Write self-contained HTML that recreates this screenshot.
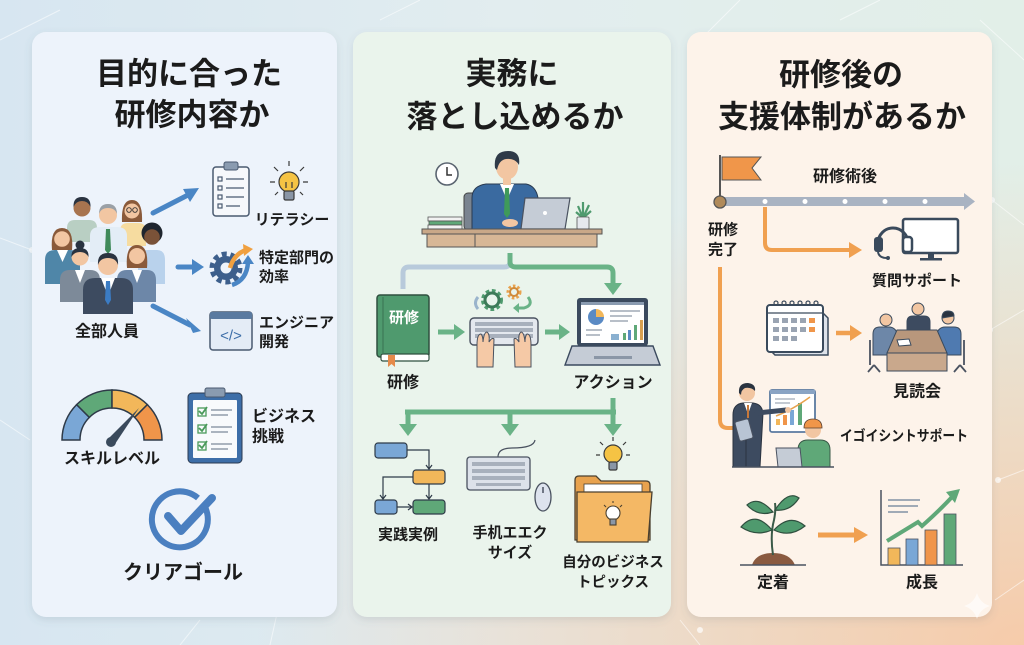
<!DOCTYPE html>
<html><head><meta charset="utf-8">
<style>
html,body{margin:0;padding:0;width:1024px;height:645px;overflow:hidden;background:#e0ecf0;}
svg{display:block;}
text{font-family:"Liberation Sans","Noto Sans CJK JP",sans-serif;font-weight:700;fill:#1b1b1b;dominant-baseline:central;}
</style></head><body>
<svg width="1024" height="645" viewBox="0 0 1024 645" xmlns="http://www.w3.org/2000/svg">
<defs>
<linearGradient id="bg" x1="0" y1="0" x2="1" y2="0">
<stop offset="0" stop-color="#d7e6f1"/>
<stop offset="0.5" stop-color="#e2edef"/>
<stop offset="1" stop-color="#e2efe8"/>
</linearGradient>
<radialGradient id="warm" cx="1" cy="1" r="0.75">
<stop offset="0" stop-color="#f6cbaa" stop-opacity="1"/>
<stop offset="1" stop-color="#f6cbaa" stop-opacity="0"/>
</radialGradient>
<filter id="sh" x="-10%" y="-10%" width="120%" height="120%">
<feDropShadow dx="0" dy="3" stdDeviation="4" flood-color="#5a6a7a" flood-opacity="0.16"/>
</filter>
</defs>

<!-- background -->
<rect width="1024" height="645" fill="url(#bg)"/>
<rect width="1024" height="645" fill="url(#warm)"/>
<g stroke="#ffffff" stroke-opacity="0.55" stroke-width="1" fill="none">
<path d="M0,40 L60,10 M0,238 L32,250 M0,420 L30,440 M270,645 L280,600 M180,645 L200,620 M990,330 L1024,310 M992,200 L1024,225 M998,480 L1024,470 M995,600 L1024,580 M680,620 L700,645 M840,20 L880,0 M980,20 L1024,60 M700,40 L740,0 M380,20 L420,0"/>
</g>
<g fill="#ffffff" fill-opacity="0.7">
<circle cx="32" cy="250" r="3"/><circle cx="992" cy="200" r="3"/><circle cx="990" cy="330" r="3"/><circle cx="998" cy="480" r="3"/><circle cx="280" cy="600" r="3"/><circle cx="700" cy="630" r="3"/>
</g>

<!-- panels -->
<rect x="32" y="32" width="305" height="585" rx="14" fill="#edf3fb" filter="url(#sh)"/>
<rect x="353" y="32" width="318" height="585" rx="14" fill="#eaf4ec" filter="url(#sh)"/>
<rect x="687" y="32" width="305" height="585" rx="14" fill="#fdf3ea" filter="url(#sh)"/>

<!-- titles -->
<text x="189" y="74" font-size="31" text-anchor="middle">目的に合った</text>
<text x="192" y="115" font-size="31" text-anchor="middle">研修内容か</text>
<text x="512" y="74" font-size="31" text-anchor="middle">実務に</text>
<text x="515" y="117" font-size="31" text-anchor="middle">落とし込めるか</text>
<text x="841" y="75" font-size="31" text-anchor="middle">研修後の</text>
<text x="842" y="117" font-size="31" text-anchor="middle">支援体制があるか</text>

<!-- ===== PANEL 1 ===== -->
<!-- people: back row -->
<g>
<path d="M67,242 V228 Q67,220 75,220 H89 Q97,220 97,228 V242 Z" fill="#b9cfc3"/>
<circle cx="82" cy="208" r="8.5" fill="#a8744f"/>
<path d="M73.5,207 Q73,197 82,197 Q91,197 90.5,207 Q88,201 82,201 Q76,201 73.5,207Z" fill="#2a3340"/>
<path d="M120,246 V231 Q120,223 128,223 H138 Q146,223 146,231 V246 Z" fill="#f6dca0"/>
<path d="M122,222 Q121,200 132,200 Q143,200 142,222 Z" fill="#8a5a3a"/>
<circle cx="132" cy="211" r="7.5" fill="#f2c6a2"/>
<circle cx="129" cy="210" r="2.3" fill="none" stroke="#333" stroke-width="0.9"/>
<circle cx="135" cy="210" r="2.3" fill="none" stroke="#333" stroke-width="0.9"/>
<path d="M90,262 V236 Q90,227 100,227 H117 Q127,227 127,236 V262 Z" fill="#e3edf6"/>
<polygon points="106,229 110,229 111,250 108,254 105,250" fill="#3f8a5a"/>
<circle cx="108" cy="215" r="9" fill="#f2c6a2"/>
<path d="M99,214 Q99,204 108,204 Q117,204 117,214 Q115,208 108,208 Q101,208 99,214Z" fill="#9aa0a6"/>
</g>
<!-- middle row -->
<g>
<path d="M45,284 V260 Q45,250 55,250 H70 Q80,250 80,260 V284 Z" fill="#4f86a8"/>
<polygon points="57,250 68,250 62.5,262" fill="#ffffff"/>
<path d="M52,250 Q50,228 62,228 Q74,228 72,250 Z" fill="#8a5a3a"/>
<circle cx="62" cy="239" r="7.8" fill="#f2c6a2"/>
<path d="M138,284 V260 Q138,250 148,250 H157 Q165,250 165,260 V284 Z" fill="#b9d2ec"/>
<circle cx="152" cy="233" r="10.5" fill="#1f252e"/>
<circle cx="152" cy="237" r="7.8" fill="#7a5238"/>
</g>
<!-- front row -->
<g>
<path d="M60,302 V280 Q60,270 70,270 H90 Q100,270 100,280 V302 Z" fill="#7d8a99"/>
<polygon points="75,270 85,270 80,283" fill="#ffffff"/>
<circle cx="80" cy="245" r="4.5" fill="#2a3340"/>
<circle cx="80" cy="257" r="8.5" fill="#f2c6a2"/>
<path d="M71.5,257 Q71,248 80,248 Q89,248 88.5,257 Q86,252 80,252 Q74,252 71.5,257Z" fill="#2a3340"/>
<path d="M117,302 V280 Q117,270 127,270 H147 Q156,270 156,280 V302 Z" fill="#6d87a8"/>
<polygon points="132,270 142,270 137,283" fill="#ffffff"/>
<path d="M127,268 Q125,245 137,245 Q149,245 147,268 Z" fill="#8a5a3a"/>
<circle cx="137" cy="256" r="8" fill="#f2c6a2"/>
<path d="M83,314 V290 Q83,278 95,278 H121 Q133,278 133,290 V314 Z" fill="#3d4b60"/>
<polygon points="101,278 115,278 108,296" fill="#ffffff"/>
<polygon points="106,281 110,281 111,300 108,305 105,300" fill="#3b7cc4"/>
<circle cx="108" cy="265" r="10" fill="#f2c6a2"/>
<path d="M98,265 Q97,253 108,253 Q119,253 118,265 Q116,258 108,258 Q100,258 98,265Z" fill="#2a3340"/>
</g>
<text x="107" y="332" font-size="16" text-anchor="middle">全部人員</text>

<!-- arrows panel 1 -->
<g stroke="#4a86c5" stroke-width="5" stroke-linecap="round" fill="none">
<line x1="153" y1="213" x2="188" y2="195"/>
<line x1="178" y1="267" x2="194" y2="267"/>
<line x1="153" y1="306" x2="190" y2="325"/>
</g>
<g fill="#4a86c5">
<polygon points="199,188 183,189 190,202"/>
<polygon points="204,267 192,259 192,275"/>
<polygon points="201,331 186,318 193,333"/>
</g>

<!-- clipboard -->
<rect x="213" y="167" width="36" height="49" rx="3" fill="#f6f8fb" stroke="#4a5a70" stroke-width="1.5"/>
<rect x="224" y="162" width="14" height="8" rx="2" fill="#8a9bb0" stroke="#4a5a70" stroke-width="1"/>
<g fill="none" stroke="#4a5a70" stroke-width="1.2">
<rect x="218" y="177" width="4" height="4"/><rect x="218" y="186" width="4" height="4"/><rect x="218" y="195" width="4" height="4"/><rect x="218" y="204" width="4" height="4"/>
<path d="M226,179 H244 M226,188 H244 M226,197 H244 M226,206 H240"/>
</g>
<!-- bulb -->
<g stroke="#3a3a3a" stroke-width="1.2">
<path d="M289,166 V161 M278,171 L274,167 M300,171 L304,167 M275,182 H270 M303,182 H308 M278,192 L275,195 M300,192 L303,195" fill="none"/>
<circle cx="289" cy="182" r="10" fill="#f5c344"/>
<rect x="284" y="191" width="10" height="9" rx="1.5" fill="#8a96a6"/>
<path d="M286,188 V182 M292,188 V182" fill="none"/>
</g>
<text x="292" y="220" font-size="15" text-anchor="middle">リテラシー</text>

<!-- gear icon -->
<circle cx="226" cy="268" r="14" fill="none" stroke="#3d5f8c" stroke-width="5" stroke-dasharray="5 3.8"/>
<circle cx="226" cy="268" r="12" fill="#3d5f8c"/>
<circle cx="226" cy="268" r="5.5" fill="#edf3fb"/>
<path d="M230,268 Q234,254 246,250" stroke="#f0a040" stroke-width="4.5" fill="none"/>
<polygon points="243,244 253,249 244,256" fill="#f0a040"/>
<path d="M248,262 Q247,280 232,285" stroke="#4a86c5" stroke-width="4.5" fill="none"/>
<polygon points="242,264 248,255 254,264" fill="#4a86c5"/>
<text x="259" y="258" font-size="15">特定部門の</text>
<text x="259" y="277" font-size="15">効率</text>

<!-- code window -->
<rect x="210" y="312" width="42" height="38" rx="3" fill="#e4ecf6" stroke="#4a5a70" stroke-width="1.5"/>
<rect x="210" y="312" width="42" height="7" rx="2" fill="#5a7aa0"/>
<text x="231" y="336" font-size="15" text-anchor="middle" style="fill:#3d6ea8;font-weight:400">&lt;/&gt;</text>
<text x="259" y="323" font-size="15">エンジニア</text>
<text x="259" y="342" font-size="15">開発</text>

<!-- gauge -->
<g stroke="#2e3a48" stroke-width="1.5">
<path d="M62,440 A50,50 0 0 1 76.64,404.64 L89.37,417.37 A32,32 0 0 0 80,440 Z" fill="#7aa7d6"/>
<path d="M76.64,404.64 A50,50 0 0 1 112,390 L112,408 A32,32 0 0 0 89.37,417.37 Z" fill="#5fa878"/>
<path d="M112,390 A50,50 0 0 1 147.36,404.64 L134.63,417.37 A32,32 0 0 0 112,408 Z" fill="#f2b75a"/>
<path d="M147.36,404.64 A50,50 0 0 1 162,440 L144,440 A32,32 0 0 0 134.63,417.37 Z" fill="#f0954a"/>
</g>
<polygon points="107,440 115,444 139,408" fill="#3a4a5c"/>
<circle cx="111" cy="442" r="5" fill="#3a4a5c"/>
<text x="112" y="459" font-size="16" text-anchor="middle">スキルレベル</text>

<!-- clipboard 2 -->
<rect x="188" y="393" width="54" height="70" rx="4" fill="#3d6ea8" stroke="#2a3a50" stroke-width="1"/>
<rect x="193" y="400" width="44" height="58" rx="1" fill="#f8fafc"/>
<rect x="205" y="388" width="20" height="9" rx="2" fill="#8a9bb0" stroke="#4a5a70" stroke-width="1"/>
<g fill="none" stroke="#4a9a5a" stroke-width="1.3">
<rect x="198" y="408" width="8" height="8"/><rect x="198" y="425" width="8" height="8"/><rect x="198" y="442" width="8" height="8"/>
<path d="M199,411 L202,414 L207,407 M199,428 L202,431 L207,424 M199,445 L202,448 L207,441" stroke-width="1.8"/>
</g>
<g stroke="#a0aab6" stroke-width="1.8"><path d="M211,410 H232 M211,415 H228 M211,427 H232 M211,432 H228 M211,444 H232 M211,449 H228"/></g>
<text x="252" y="417" font-size="16">ビジネス</text>
<text x="252" y="437" font-size="16">挑戦</text>

<!-- check circle -->
<path d="M205,507 A28,28 0 1 1 198,498" fill="none" stroke="#4a7fc0" stroke-width="6"/>
<path d="M168,516 L181,531 L212,498" fill="none" stroke="#4a7fc0" stroke-width="8" stroke-linecap="round" stroke-linejoin="round"/>
<text x="183" y="573" font-size="20" text-anchor="middle">クリアゴール</text>

<!-- ===== PANEL 2 ===== -->
<!-- clock -->
<circle cx="447" cy="174" r="11" fill="#ffffff" stroke="#5a6470" stroke-width="1.6"/>
<path d="M447,167 V175 H452" stroke="#333" stroke-width="1.5" fill="none"/>
<!-- chair -->
<rect x="464" y="193" width="14" height="37" rx="4" fill="#7a8490" stroke="#444" stroke-width="1"/>
<!-- person -->
<path d="M472,230 V198 Q472,186 486,184 H526 Q536,186 538,198 V230 Z" fill="#3a6aa0" stroke="#2a3a50" stroke-width="1"/>
<polygon points="500,184 514,184 507,200" fill="#ffffff"/>
<polygon points="505,188 509,188 510,214 507,218 504,214" fill="#3f9a5a"/>
<rect x="503" y="176" width="8" height="9" fill="#f2c6a2"/>
<ellipse cx="507" cy="167" rx="11" ry="12.5" fill="#f2c6a2"/>
<path d="M495,168 Q493,151 508,151 Q521,151 519,165 Q515,158 506,159 Q499,160 497,170Z" fill="#2f3a48"/>
<ellipse cx="510" cy="223" rx="8" ry="4" fill="#f2c6a2"/>
<!-- laptop back -->
<polygon points="525,198 570,198 565,229 521,229" fill="#c5ccd6" stroke="#4a5260" stroke-width="1.2"/>
<circle cx="545" cy="213" r="2" fill="#ffffff"/>
<!-- books -->
<rect x="428" y="217" width="34" height="4" fill="#f2f2f2" stroke="#555" stroke-width="0.8"/>
<rect x="429" y="221" width="33" height="4" fill="#5fa878" stroke="#555" stroke-width="0.8"/>
<rect x="428" y="225" width="34" height="4" fill="#f2f2f2" stroke="#555" stroke-width="0.8"/>
<!-- plant -->
<path d="M583,218 L578,206 M583,218 L583,202 M583,218 L589,205 M583,218 L576,212 M583,218 L591,211" stroke="#4f9a6e" stroke-width="2.2"/>
<rect x="577" y="217" width="12" height="12" rx="1" fill="#e6e9ee" stroke="#555" stroke-width="0.8"/>
<!-- desk -->
<rect x="422" y="229" width="180" height="5" fill="#c9a888" stroke="#555" stroke-width="1"/>
<rect x="427" y="234" width="170" height="13" fill="#d7b796" stroke="#555" stroke-width="1"/>
<line x1="475" y1="234" x2="475" y2="247" stroke="#555" stroke-width="1"/>

<!-- connectors top -->
<path d="M510,253 V262 Q510,267 504,267 H409 Q403,267 403,273 V289" stroke="#b8cadb" stroke-width="5" fill="none"/>
<path d="M510,253 V262 Q510,267 516,267 H607 Q613,267 613,273 V284" stroke="#6ab387" stroke-width="5" fill="none"/>
<polygon points="604,283 622,283 613,295" fill="#6ab387"/>

<!-- book -->
<rect x="377" y="295" width="52" height="62" rx="3" fill="#4f9a6e" stroke="#2f4f3f" stroke-width="1.5"/>
<rect x="381" y="354" width="48" height="7" rx="2" fill="#ffffff" stroke="#2f4f3f" stroke-width="1.2"/>
<line x1="383" y1="297" x2="383" y2="354" stroke="#3d7a58" stroke-width="1.2"/>
<polygon points="388,355 395,355 395,367 391.5,364 388,367" fill="#e58a4a"/>
<text x="404" y="318" font-size="15" text-anchor="middle" style="fill:#ffffff">研修</text>
<text x="403" y="383" font-size="16" text-anchor="middle">研修</text>
<!-- arrows -->
<path d="M438,332 H455" stroke="#6ab387" stroke-width="5"/>
<polygon points="454,324 465,332 454,340" fill="#6ab387"/>
<path d="M545,332 H560" stroke="#6ab387" stroke-width="5"/>
<polygon points="559,324 570,332 559,340" fill="#6ab387"/>
<!-- gears -->
<circle cx="492" cy="300" r="9" fill="none" stroke="#4f9a6e" stroke-width="4" stroke-dasharray="3.5 2.5"/>
<circle cx="492" cy="300" r="7" fill="none" stroke="#3d7a58" stroke-width="3"/>
<circle cx="514" cy="292" r="6" fill="none" stroke="#e8a24e" stroke-width="3" stroke-dasharray="2.5 2"/>
<circle cx="514" cy="292" r="4" fill="none" stroke="#d08a3a" stroke-width="2"/>
<path d="M478,309 Q473,303 478,297" stroke="#9ab4cc" stroke-width="3" fill="none"/>
<path d="M528,297 Q534,305 524,308 H518" stroke="#6ab387" stroke-width="3" fill="none"/>
<polygon points="519,303 513,308 519,313" fill="#6ab387"/>
<!-- keyboard hands -->
<rect x="470" y="318" width="68" height="27" rx="4" fill="#e4e8ee" stroke="#4a5260" stroke-width="1.4"/>
<g fill="#a8b0bc"><rect x="475" y="322" width="58" height="4"/><rect x="475" y="328" width="58" height="4"/><rect x="475" y="334" width="58" height="4"/></g>
<path d="M477,367 V345 Q477,334 481,334 Q483,336 483,342 Q484,332 487,332 Q490,334 489,342 Q492,337 494,339 L493,367 Z" fill="#f5c9a6" stroke="#4a5260" stroke-width="1"/>
<path d="M531,367 V345 Q531,334 527,334 Q525,336 525,342 Q524,332 521,332 Q518,334 519,342 Q516,337 514,339 L515,367 Z" fill="#f5c9a6" stroke="#4a5260" stroke-width="1"/>
<!-- laptop -->
<rect x="577" y="298" width="71" height="48" rx="3" fill="#3b4a5e"/>
<rect x="581" y="304" width="63" height="39" fill="#ffffff"/>
<rect x="581" y="302" width="63" height="3" fill="#8a9bb0"/>
<path d="M596,317 L596,309 A8,8 0 0 1 604,317 Z" fill="#f2b75a"/>
<path d="M596,317 L604,317 A8,8 0 1 1 596,309 Z" fill="#5a8ac4"/>
<g stroke="#a0aab6" stroke-width="1.5"><path d="M610,311 H640 M610,316 H632 M610,321 H628 M586,330 H602 M586,335 H600"/></g>
<g fill="#5fa878"><rect x="623" y="333" width="3" height="7"/><rect x="634" y="325" width="3" height="15"/></g>
<rect x="628" y="330" width="3" height="10" fill="#5a8ac4"/>
<rect x="640" y="320" width="3" height="20" fill="#d9a050"/>
<rect x="611" y="334" width="8" height="6" fill="#8ab0d0"/>
<polygon points="572,346 653,346 660,365 565,365" fill="#c5ccd6" stroke="#3b4a5e" stroke-width="1.4"/>
<rect x="594" y="356" width="38" height="3" fill="#8a96a6"/>
<text x="613" y="383" font-size="16" text-anchor="middle">アクション</text>

<!-- connector bottom -->
<path d="M613,398 V412 M405,412 H616" stroke="#6ab387" stroke-width="5" fill="none"/>
<path d="M408,410 V427 M510,410 V427 M613,410 V427" stroke="#6ab387" stroke-width="5" fill="none"/>
<polygon points="399,424 417,424 408,436" fill="#6ab387"/>
<polygon points="501,424 519,424 510,436" fill="#6ab387"/>
<polygon points="604,424 622,424 613,436" fill="#6ab387"/>

<!-- flowchart -->
<g stroke="#2e3a48" stroke-width="1.2">
<rect x="375" y="443" width="32" height="15" rx="3" fill="#7aa7d6"/>
<rect x="413" y="470" width="32" height="14" rx="3" fill="#f2b75a"/>
<rect x="375" y="500" width="22" height="14" rx="3" fill="#7aa7d6"/>
<rect x="413" y="500" width="32" height="14" rx="3" fill="#5fa878"/>
<path d="M407,450 H429 V468 M413,477 H383 V498 M429,484 V498 M397,507 H411" fill="none"/>
<path d="M426,465 L429,469 L432,465 M380,495 L383,499 L386,495 M426,495 L429,499 L432,495 M408,504 L412,507 L408,510" fill="none"/>
</g>
<text x="408" y="535" font-size="15" text-anchor="middle">実践実例</text>

<!-- keyboard 2 -->
<path d="M498,457 Q498,448 512,448 Q534,448 535,440" stroke="#4a5260" stroke-width="1.2" fill="none"/>
<rect x="467" y="457" width="63" height="33" rx="3" fill="#dde2ea" stroke="#4a5260" stroke-width="1.3"/>
<g fill="#a8b0bc"><rect x="472" y="462" width="53" height="4"/><rect x="472" y="469" width="53" height="4"/><rect x="472" y="476" width="53" height="4"/><rect x="476" y="483" width="45" height="3"/></g>
<ellipse cx="543" cy="497" rx="8" ry="14" fill="#dde3ee" stroke="#4a5260" stroke-width="1.3"/>
<line x1="543" y1="487" x2="543" y2="493" stroke="#4a5260" stroke-width="1.5"/>
<text x="510" y="533" font-size="15" text-anchor="middle">手机エエク</text>
<text x="510" y="553" font-size="15" text-anchor="middle">サイズ</text>

<!-- bulb + folder -->
<g stroke="#3a3a3a" stroke-width="1.2">
<path d="M613,441 V437 M603,445 L600,442 M623,445 L626,442 M600,455 H596 M626,455 H630" fill="none"/>
<circle cx="613" cy="454" r="9" fill="#f5c344"/>
<rect x="609" y="462" width="8" height="8" rx="1.5" fill="#8a96a6"/>
</g>
<path d="M575,480 Q575,476 579,476 H596 L601,481 H646 Q650,481 650,485 V540 H575 Z" fill="#e8a24e" stroke="#4a4030" stroke-width="1.3"/>
<rect x="584" y="484" width="58" height="14" fill="#ffffff" stroke="#4a4030" stroke-width="0.8"/>
<path d="M577,492 H652 L648,542 H577 Z" fill="#f4b865" stroke="#4a4030" stroke-width="1.3"/>
<g stroke="#4a4030" stroke-width="1.1">
<circle cx="613" cy="513" r="7" fill="#ffffff"/>
<rect x="610" y="519" width="6" height="6" fill="#8a96a6"/>
<path d="M613,501 V503 M604,505 L606,507 M622,505 L620,507" fill="none"/>
</g>
<text x="613" y="563" font-size="14.5" text-anchor="middle">自分のビジネス</text>
<text x="613" y="583" font-size="14.5" text-anchor="middle">トピックス</text>

<!-- ===== PANEL 3 ===== -->
<!-- timeline -->
<rect x="720" y="197" width="247" height="9" fill="#a9b3c2"/>
<polygon points="964,193 975,201.5 964,210" fill="#a9b3c2"/>
<g fill="#ffffff"><circle cx="765" cy="201.5" r="2.5"/><circle cx="805" cy="201.5" r="2.5"/><circle cx="845" cy="201.5" r="2.5"/><circle cx="885" cy="201.5" r="2.5"/><circle cx="925" cy="201.5" r="2.5"/></g>
<line x1="720" y1="155" x2="720" y2="200" stroke="#555" stroke-width="2"/>
<polygon points="722,157 761,157 752,168 761,180 722,180" fill="#f0964a" stroke="#555" stroke-width="1"/>
<circle cx="720" cy="202" r="6" fill="#b08a5a" stroke="#555" stroke-width="1.3"/>
<text x="845" y="177" font-size="16" text-anchor="middle">研修術後</text>
<text x="723" y="230" font-size="15" text-anchor="middle">研修</text>
<text x="723" y="250" font-size="15" text-anchor="middle">完了</text>
<!-- orange connectors -->
<path d="M765,207 V243 Q765,250 772,250 H850" stroke="#f0a050" stroke-width="4" fill="none"/>
<polygon points="849,242 862,250 849,258" fill="#f0a050"/>
<path d="M720,267 V420 Q720,428 728,428 H735" stroke="#f0a050" stroke-width="4" fill="none"/>
<!-- headset + monitor -->
<rect x="903" y="219" width="55" height="34" rx="2" fill="#ffffff" stroke="#3a4a5c" stroke-width="2.5"/>
<rect x="928" y="253" width="6" height="6" fill="#3a4a5c"/>
<rect x="920" y="258" width="22" height="2.5" fill="#3a4a5c"/>
<path d="M878,243 A15,15 0 0 1 908,243" stroke="#3a4a5c" stroke-width="3" fill="none"/>
<rect x="874" y="237" width="9" height="15" rx="3" fill="#3a4a5c"/>
<rect x="903" y="237" width="9" height="15" rx="3" fill="#ffffff" stroke="#3a4a5c" stroke-width="2.5"/>
<path d="M878,252 Q879,258 887,258" stroke="#3a4a5c" stroke-width="2" fill="none"/>
<circle cx="888" cy="258" r="2" fill="#3a4a5c"/>
<text x="917" y="281" font-size="15" text-anchor="middle">質問サポート</text>

<!-- calendar -->
<path d="M822,312 L828,318 V355 H775 L770,350" fill="#dde2ea" stroke="#3a4a5c" stroke-width="1.5"/>
<rect x="767" y="305" width="56" height="47" rx="3" fill="#ffffff" stroke="#3a4a5c" stroke-width="2"/>
<line x1="767" y1="313" x2="823" y2="313" stroke="#3a4a5c" stroke-width="1.2"/>
<g fill="none" stroke="#3a4a5c" stroke-width="1.2"><circle cx="776" cy="303" r="2"/><circle cx="784" cy="303" r="2"/><circle cx="792" cy="303" r="2"/><circle cx="800" cy="303" r="2"/><circle cx="808" cy="303" r="2"/><circle cx="816" cy="303" r="2"/></g>
<g fill="#9aa4b2">
<rect x="773" y="318" width="6" height="5"/><rect x="782" y="318" width="6" height="5"/><rect x="791" y="318" width="6" height="5"/><rect x="800" y="318" width="6" height="5"/>
<rect x="773" y="327" width="6" height="5"/><rect x="782" y="327" width="6" height="5"/><rect x="791" y="327" width="6" height="5"/><rect x="800" y="327" width="6" height="5"/>
<rect x="773" y="336" width="6" height="5"/><rect x="782" y="336" width="6" height="5"/><rect x="791" y="336" width="6" height="5"/>
</g>
<g fill="#f0964a"><rect x="809" y="318" width="6" height="5"/><rect x="809" y="327" width="6" height="5"/></g>
<path d="M836,333 H851" stroke="#f0a050" stroke-width="4.5"/>
<polygon points="850,325 862,333 850,341" fill="#f0a050"/>

<!-- meeting -->
<g stroke="#3a4a5c" stroke-width="1">
<path d="M907,330 V322 Q907,316 913,316 H924 Q930,316 930,322 V330 Z" fill="#3d4b60"/>
<circle cx="918" cy="309" r="6" fill="#f2c6a2"/>
<path d="M873,355 V334 Q873,327 880,327 H889 Q896,327 898,336 L900,355 Z" fill="#6d87a8"/>
<circle cx="886" cy="320" r="6" fill="#f2c6a2"/>
<path d="M961,355 V334 Q961,327 954,327 H945 Q938,327 936,336 L934,355 Z" fill="#4f7ab0"/>
<circle cx="948" cy="318" r="6" fill="#f2c6a2"/>
<path d="M942,318 Q942,311 948,311 Q954,311 954,316 Z" fill="#2a3340"/>
<polygon points="897,330 937,330 947,353 887,353" fill="#b8977c"/>
<rect x="887" y="353" width="60" height="18" fill="#c9a88c"/>
<polygon points="897,340 909,339 911,345 899,346" fill="#ffffff"/>
</g>
<g stroke="#4a5260" stroke-width="1.8" fill="none">
<path d="M870,340 V365 M874,365 L868,372 M874,365 L880,372 M964,340 V365 M960,365 L954,372 M960,365 L966,372"/>
</g>
<text x="917" y="392" font-size="16" text-anchor="middle">見読会</text>

<!-- presenter scene -->
<rect x="770" y="390" width="45" height="42" rx="2" fill="#ffffff" stroke="#5a7aa0" stroke-width="1.8"/>
<rect x="770" y="390" width="45" height="4" fill="#8aa4c4"/>
<g stroke="#a0aab6" stroke-width="1.3"><path d="M775,399 H795 M775,403 H790"/></g>
<rect x="776" y="419" width="4" height="6" fill="#f2b75a"/><rect x="783" y="415" width="4" height="10" fill="#f0954a"/><rect x="790" y="410" width="4" height="15" fill="#7aa7d6"/><rect x="798" y="403" width="4" height="22" fill="#5fa878"/>
<path d="M776,416 Q792,410 810,397" stroke="#e8a24e" stroke-width="1.5" fill="none"/>
<path d="M733,467 V415 Q733,404 743,403 H753 Q762,404 763,413 L760,467 Z" fill="#3d4b60" stroke="#2a3340" stroke-width="1"/>
<path d="M757,413 L786,410" stroke="#3d4b60" stroke-width="5" stroke-linecap="round"/>
<circle cx="788" cy="410" r="3" fill="#f2c6a2"/>
<polygon points="744,403 752,403 748,414" fill="#ffffff"/>
<line x1="748" y1="405" x2="748" y2="418" stroke="#c8783a" stroke-width="2"/>
<circle cx="747" cy="393" r="8" fill="#f2c6a2"/>
<path d="M739,393 Q738,383 748,383 Q756,384 755,391 Q751,387 745,388 Q741,390 741,395Z" fill="#2a3340"/>
<rect x="737" y="420" width="14" height="20" rx="2" fill="#b8c4d4" stroke="#4a5260" stroke-width="1" transform="rotate(-15 744 430)"/>
<line x1="746" y1="440" x2="746" y2="467" stroke="#2a3340" stroke-width="1"/>
<path d="M798,467 V450 Q798,440 808,440 H820 Q830,440 830,450 V467 Z" fill="#5fa878" stroke="#3a5a48" stroke-width="1"/>
<circle cx="813" cy="430" r="8" fill="#f2c6a2"/>
<path d="M804,428 Q804,419 813,419 Q822,419 822,428 Z" fill="#f0964a" stroke="#5a4030" stroke-width="0.8"/>
<polygon points="776,448 800,448 802,467 778,467" fill="#c5ccd6" stroke="#4a5260" stroke-width="1"/>
<line x1="732" y1="467" x2="834" y2="467" stroke="#4a5260" stroke-width="1.5"/>
<text x="840" y="437" font-size="14.5" textLength="128" lengthAdjust="spacingAndGlyphs">イゴイシントサポート</text>

<!-- plant -->
<path d="M752,565 Q756,553 773,553 Q790,553 795,565 Z" fill="#8a5a40"/>
<line x1="740" y1="565" x2="806" y2="565" stroke="#4a5260" stroke-width="1.5"/>
<path d="M773,555 Q770,535 774,520 Q776,510 775,503" stroke="#3a5a48" stroke-width="2" fill="none"/>
<g fill="#4f9a6e" stroke="#2f4f3f" stroke-width="1.2">
<path d="M772,530 Q755,510 741,527 Q756,537 772,530 Z"/>
<path d="M774,530 Q790,513 805,526 Q790,538 774,530 Z"/>
<path d="M773,512 Q758,495 747,505 Q758,517 773,512 Z"/>
<path d="M775,510 Q788,490 799,498 Q790,512 775,510 Z"/>
</g>
<text x="773" y="583" font-size="16" text-anchor="middle">定着</text>
<path d="M818,535 H855" stroke="#f0a050" stroke-width="5"/>
<polygon points="854,527 868,535 854,543" fill="#f0a050"/>

<!-- growth chart -->
<path d="M881,490 V565 H963" stroke="#4a5260" stroke-width="1.5" fill="none"/>
<g stroke="#a0aab6" stroke-width="2"><path d="M888,500 H920 M888,506 H918 M888,512 H908"/></g>
<rect x="888" y="548" width="12" height="17" fill="#f2b75a" stroke="#4a5260" stroke-width="0.8"/>
<rect x="906" y="539" width="12" height="26" fill="#7aa7d6" stroke="#4a5260" stroke-width="0.8"/>
<rect x="925" y="530" width="12" height="35" fill="#f0954a" stroke="#4a5260" stroke-width="0.8"/>
<rect x="944" y="514" width="12" height="51" fill="#5fa878" stroke="#4a5260" stroke-width="0.8"/>
<path d="M887,541 Q905,530 918,522 L922,526 Q940,510 952,497" stroke="#5fa878" stroke-width="4" fill="none"/>
<polygon points="946,492 960,489 955,503" fill="#5fa878"/>
<text x="922" y="583" font-size="16" text-anchor="middle">成長</text>

<!-- sparkle -->
<path d="M977,593 Q980,603 990,606 Q980,609 977,619 Q974,609 964,606 Q974,603 977,593 Z" fill="#ffffff" fill-opacity="0.6"/>
</svg>
</body></html>
